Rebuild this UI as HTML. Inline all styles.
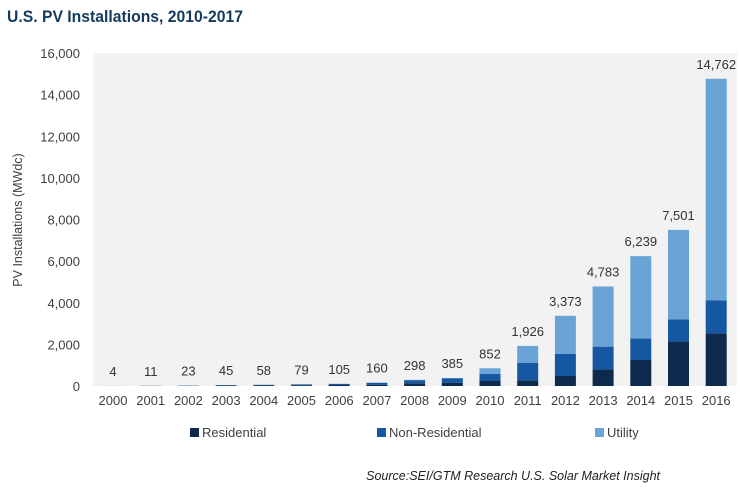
<!DOCTYPE html>
<html><head><meta charset="utf-8"><style>
body{margin:0;background:#fff;width:740px;height:489px;overflow:hidden;font-family:"Liberation Sans",sans-serif}
svg text{font-family:"Liberation Sans",sans-serif}
</style></head><body>
<svg id="chart" width="740" height="489">
<text x="7" y="22" font-size="17" font-weight="bold" fill="#163a5c" textLength="236" lengthAdjust="spacingAndGlyphs">U.S. PV Installations, 2010-2017</text>
<rect x="93" y="53" width="644" height="333" fill="#f2f2f2"/>
<text transform="translate(22,220) rotate(-90)" text-anchor="middle" font-size="12.5" fill="#404040">PV Installations (MWdc)</text>
<g id="yticks"></g><g id="bars"></g><g id="xlabels"></g>
<g>
<rect x="190" y="428" width="9" height="9" fill="#0d2a4d"/>
<text x="202" y="437" font-size="13" fill="#404040">Residential</text>
<rect x="377" y="428" width="9" height="9" fill="#1557a0"/>
<text x="389" y="437" font-size="13" fill="#404040">Non-Residential</text>
<rect x="595" y="428" width="9" height="9" fill="#6aa3d6"/>
<text x="607" y="437" font-size="13" fill="#404040">Utility</text>
</g>
<text x="660" y="480" text-anchor="end" font-size="12.5" font-style="italic" fill="#222">Source:SEI/GTM Research U.S. Solar Market Insight</text>
</svg>
<script>
const years=["2000","2001","2002","2003","2004","2005","2006","2007","2008","2009","2010","2011","2012","2013","2014","2015","2016"];
const residential=[1,4,9,20,30,38,50,60,130,160,240,270,480,800,1250,2150,2530];
const nonResidential=[2,6,12,24,27,38,50,95,150,200,340,850,1070,1090,1030,1050,1590];
const utility=[1,1,2,1,1,3,5,5,18,25,272,806,1823,2893,3959,4301,10642];
const totalLabels=["4","11","23","45","58","79","105","160","298","385","852","1,926","3,373","4,783","6,239","7,501","14,762"];
const yTicks=[0,2000,4000,6000,8000,10000,12000,14000,16000];
const NS="http://www.w3.org/2000/svg";
const y0=386,yTop=53,yMax=16000;
const yS=v=>y0-(v/yMax)*(y0-yTop);
const hS=v=>(v/yMax)*(y0-yTop);
const xS=i=>113+i*37.7;
const bw=21;
function mk(tag,attrs,parent,txt){const e=document.createElementNS(NS,tag);for(const k in attrs)e.setAttribute(k,attrs[k]);if(txt!==undefined)e.textContent=txt;parent.appendChild(e);return e;}
const yt=document.getElementById('yticks');
yTicks.forEach(v=>{const t=mk('text',{x:80,y:yS(v)+5,'text-anchor':'end','font-size':13,fill:'#404040'},yt,v.toLocaleString('en-US'));

});
const bg=document.getElementById('bars'),xl=document.getElementById('xlabels');
const cols=["#0d2a4d","#1557a0","#6aa3d6"];
years.forEach((yr,i)=>{
 let cum=0;
 [residential[i],nonResidential[i],utility[i]].forEach((v,k)=>{
  const r=mk('rect',{x:xS(i)-bw/2,y:yS(cum+v),width:bw,height:Math.max(hS(v),0),fill:cols[k]},bg);
  
  
  cum+=v;
 });
 const lt=mk('text',{x:xS(i),y:Math.min(yS(cum),386)-10,'text-anchor':'middle','font-size':13,fill:'#333'},bg,totalLabels[i]);
 
 
 const xt=mk('text',{x:xS(i),y:405,'text-anchor':'middle','font-size':13,fill:'#404040'},xl,yr);
 
 
});
</script>
</body></html>
